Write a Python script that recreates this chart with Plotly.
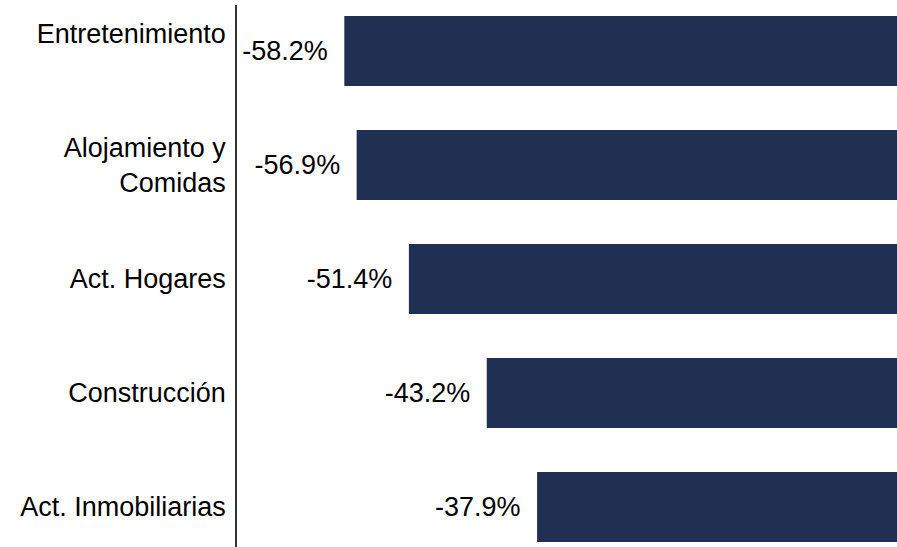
import plotly.graph_objects as go

categories = ["Entretenimiento", "Alojamiento y Comidas", "Act. Hogares", "Construcción", "Act. Inmobiliarias"]
values = [-58.2, -56.9, -51.4, -43.2, -37.9]
tick_labels = ["Entretenimiento<br>\u00a0", "Alojamiento y<br>Comidas", "Act. Hogares", "Construcción", "Act. Inmobiliarias"]

FONT = "Liberation Sans, Arial, sans-serif"
FS = 27

fig = go.Figure(go.Bar(
    x=values,
    y=categories,
    orientation="h",
    marker=dict(color="#1F3052", line=dict(width=0)),
    texttemplate="%{x:.1f}%\u2002",
    textposition="outside",
    constraintext="none",
    cliponaxis=False,
    textfont=dict(family=FONT, size=FS, color="#000000"),
    hoverinfo="skip",
))

fig.update_layout(
    width=897, height=547,
    margin=dict(l=237, r=0, t=5, b=0, pad=0),
    paper_bgcolor="white", plot_bgcolor="white",
    bargap=0.386,
    showlegend=False,
    font=dict(family=FONT, size=FS, color="#000000"),
)
fig.update_xaxes(range=[-69.5, 0], showgrid=False, zeroline=False, showticklabels=False,
                 showline=False, ticks="")
fig.update_yaxes(type="category", categoryorder="array", categoryarray=categories,
                 range=[4.351, -0.4035], autorange=False,
                 tickvals=categories, ticktext=tick_labels,
                 showgrid=False, zeroline=False, showline=True, linecolor="#333333", linewidth=1.5,
                 ticks="", ticklabelstandoff=4,
                 tickfont=dict(family=FONT, size=FS, color="#000000"))

fig.write_html("out.html", config={"displayModeBar": False},
               post_script="document.body.style.margin='0';")
